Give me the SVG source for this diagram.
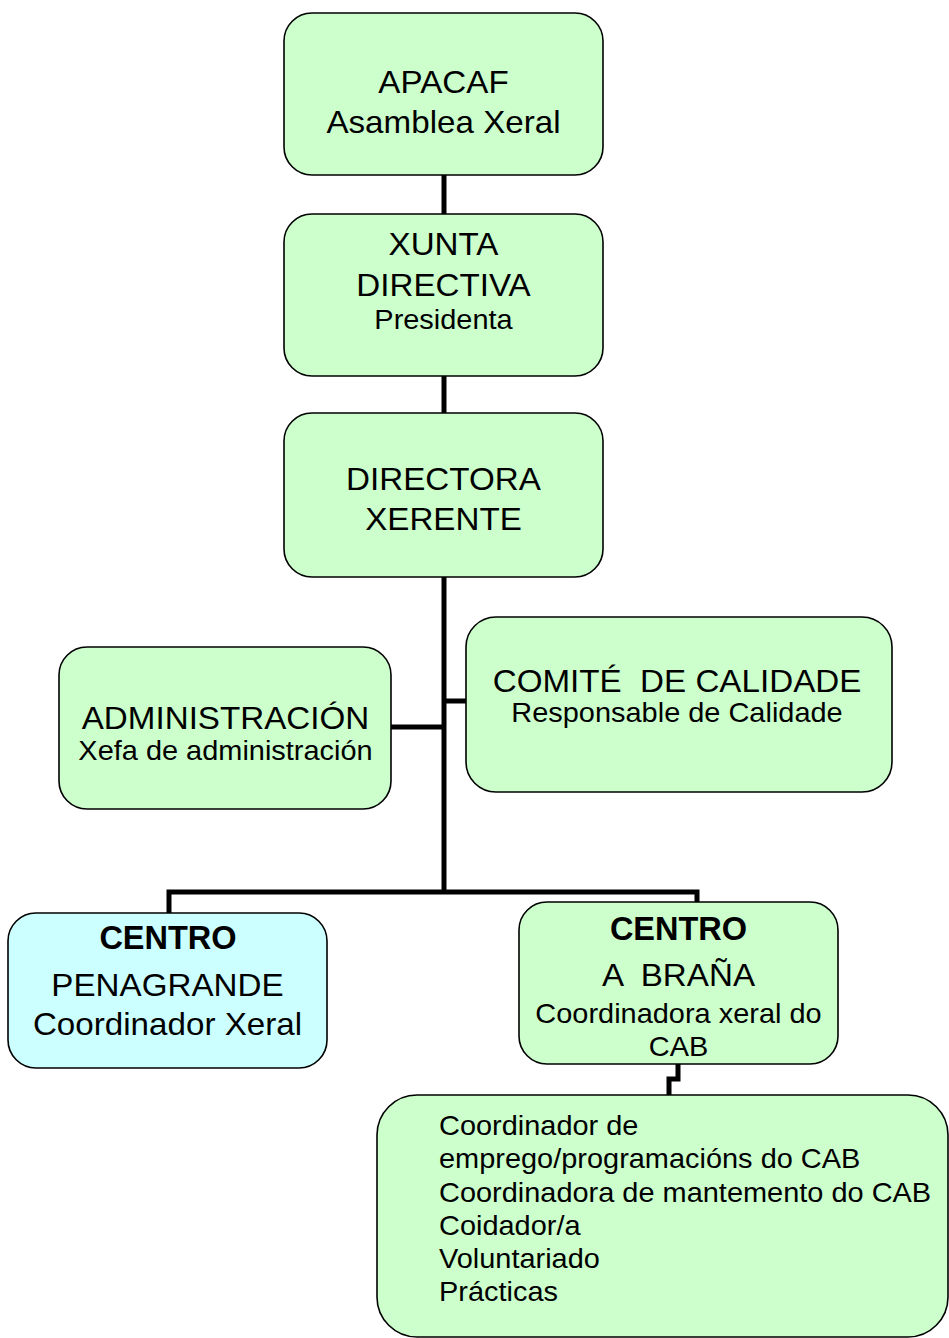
<svg xmlns="http://www.w3.org/2000/svg" width="949" height="1338" viewBox="0 0 949 1338">
<style>
.box{stroke:#000;stroke-width:1.6}
.g{fill:#CCFFCC}
.c{fill:#CCFFFF}
text{font-family:"Liberation Sans",Arial,sans-serif;fill:#000;text-anchor:middle}
.L{font-size:31.3px}
.S{font-size:27.3px}
.B{font-size:32.5px;font-weight:bold}
.left{text-anchor:start}
.con{fill:none;stroke:#000;stroke-width:5;stroke-linejoin:miter}
</style>
<rect width="949" height="1338" fill="#fff"/>
<g id="connectors">
<path class="con" d="M444,175 V214"/>
<path class="con" d="M444,376 V413"/>
<path class="con" d="M444,577 V892"/>
<path class="con" d="M391,727 H444"/>
<path class="con" d="M444,701 H466"/>
<path class="con" d="M169,913 V892 H697 V902"/>
<path class="con" stroke-width="4" d="M678,1064 V1079 H669 V1095"/>
</g>
<g id="apacaf">
<rect class="box g" x="284" y="13" width="319" height="162" rx="28"/>
<g transform="translate(443.5 0) scale(1.06 1)">
<text class="L" x="0" y="93">APACAF</text>
<text class="L" x="0" y="133">Asamblea Xeral</text>
</g>
</g>
<g id="xunta">
<rect class="box g" x="284" y="214" width="319" height="162" rx="28"/>
<g transform="translate(443.5 0) scale(1.06 1)">
<text class="L" x="0" y="255">XUNTA</text>
<text class="L" x="0" y="296">DIRECTIVA</text>
<text class="S" x="0" y="329">Presidenta</text>
</g>
</g>
<g id="directora">
<rect class="box g" x="284" y="413" width="319" height="164" rx="28"/>
<g transform="translate(443.5 0) scale(1.06 1)">
<text class="L" x="0" y="490">DIRECTORA</text>
<text class="L" x="0" y="530">XERENTE</text>
</g>
</g>
<g id="administracion">
<rect class="box g" x="59" y="647" width="332" height="162" rx="28"/>
<g transform="translate(225.5 0) scale(1.06 1)">
<text class="L" x="0" y="729">ADMINISTRACIÓN</text>
<text class="S" x="0" y="760">Xefa de administración</text>
</g>
</g>
<g id="comite">
<rect class="box g" x="466" y="617" width="426" height="175" rx="30"/>
<g transform="translate(677 0) scale(1.06 1)">
<text class="L" x="0" y="692" xml:space="preserve">COMITÉ  DE CALIDADE</text>
<text class="S" x="0" y="722">Responsable de Calidade</text>
</g>
</g>
<g id="penagrande">
<rect class="box c" x="8" y="913" width="319" height="155" rx="28"/>
<text class="B" x="168" y="949">CENTRO</text>
<g transform="translate(167.5 0) scale(1.06 1)">
<text class="L" x="0" y="996">PENAGRANDE</text>
<text class="L" x="0" y="1035">Coordinador Xeral</text>
</g>
</g>
<g id="brana">
<rect class="box g" x="519" y="902" width="319" height="162" rx="28"/>
<text class="B" x="678.5" y="940">CENTRO</text>
<g transform="translate(678.5 0) scale(1.06 1)">
<text class="L" x="0" y="986" xml:space="preserve">A  BRAÑA</text>
<text class="S" x="0" y="1023">Coordinadora xeral do</text>
<text class="S" x="0" y="1056">CAB</text>
</g>
</g>
<g id="persoal">
<rect class="box g" x="377" y="1095" width="571" height="242" rx="40"/>
<g transform="translate(439 0) scale(1.06 1)">
<text class="S left" x="0" y="1135">Coordinador de</text>
<text class="S left" x="0" y="1168">emprego/programacións do CAB</text>
<text class="S left" x="0" y="1202">Coordinadora de mantemento do CAB</text>
<text class="S left" x="0" y="1235">Coidador/a</text>
<text class="S left" x="0" y="1268">Voluntariado</text>
<text class="S left" x="0" y="1301">Prácticas</text>
</g>
</g>
</svg>
